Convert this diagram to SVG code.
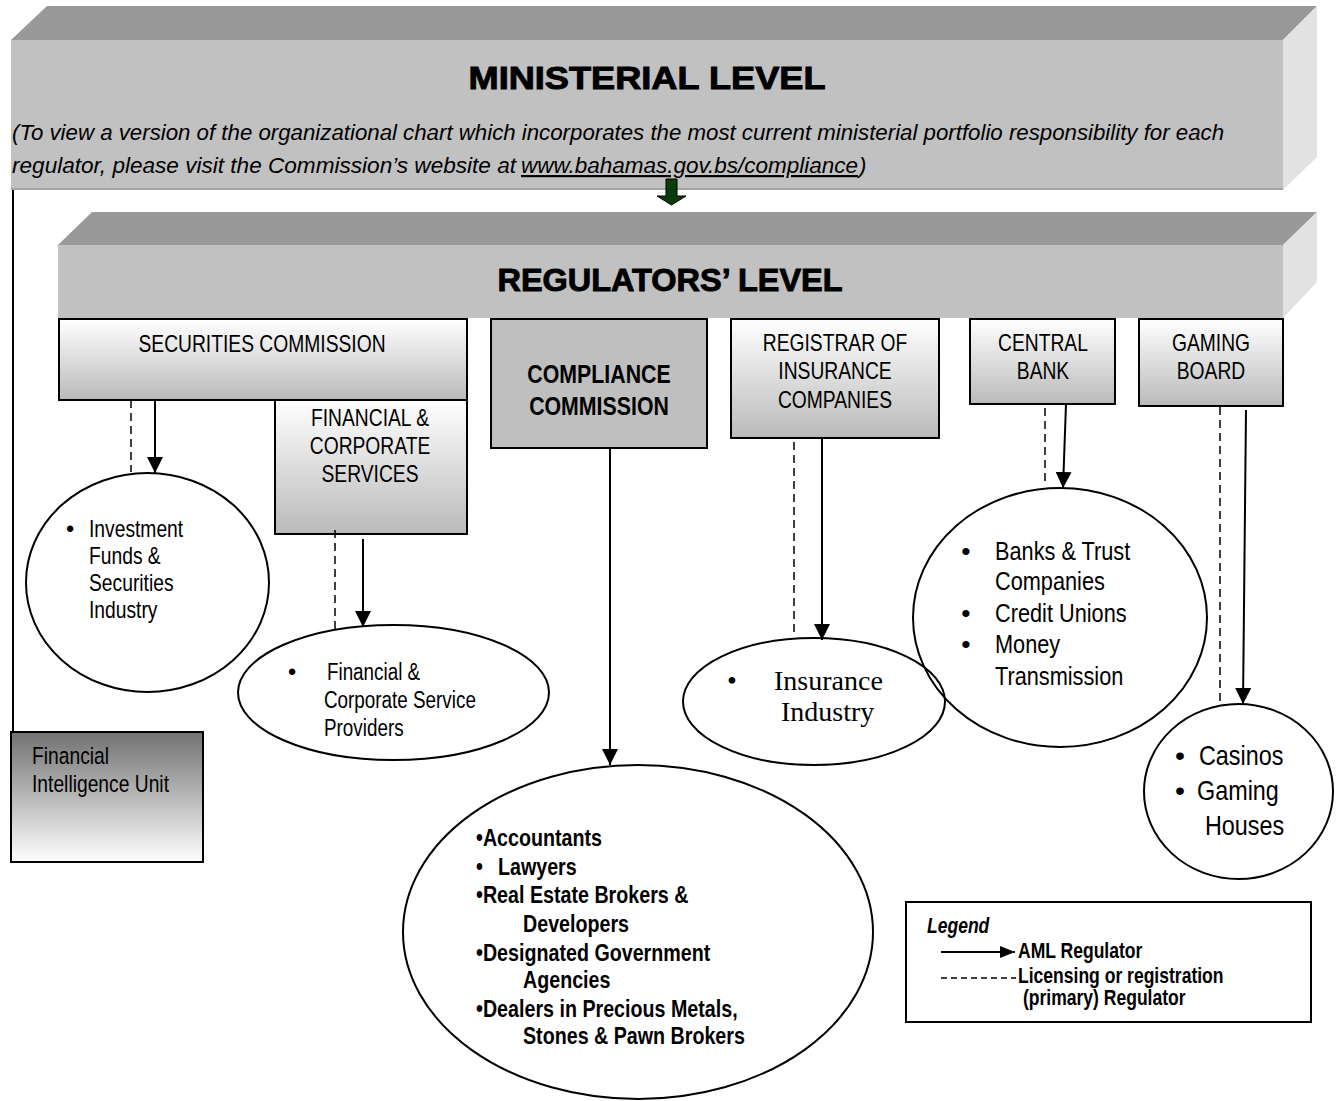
<svg xmlns="http://www.w3.org/2000/svg" width="1340" height="1101" viewBox="0 0 1340 1101">
<defs>
<linearGradient id="gBox" x1="0" y1="0" x2="0" y2="1"><stop offset="0" stop-color="#ffffff"/><stop offset="1" stop-color="#bababa"/></linearGradient>
<linearGradient id="gFiu" x1="0" y1="0" x2="0" y2="1"><stop offset="0" stop-color="#717171"/><stop offset="1" stop-color="#ffffff"/></linearGradient>
<marker id="ah" markerUnits="userSpaceOnUse" markerWidth="16" markerHeight="16" refX="16" refY="8" orient="auto"><path d="M0,0 L16,8 L0,16 z" fill="#000"/></marker>
<marker id="ahl" markerUnits="userSpaceOnUse" markerWidth="15" markerHeight="12" refX="15" refY="6" orient="auto"><path d="M0,0 L15,6 L0,12 z" fill="#000"/></marker>
<style>
.s{font-family:"Liberation Sans",Arial,Helvetica,sans-serif;fill:#000}
.r{font-size:23.5px}
.b{font-weight:bold}
.title{font-family:"Liberation Sans",Arial,sans-serif;font-weight:bold;font-size:31px;stroke:#000;stroke-width:0.9}
.it{font-family:"Liberation Sans",Arial,sans-serif;font-style:italic;font-size:22.2px}
.top{fill:#999999}
.front{fill:#c1c1c1}
.side{fill:#e2e2e2}
.box{stroke:#000;stroke-width:2}
.ell{fill:none;stroke:#000;stroke-width:2}
.aml{stroke:#000;stroke-width:2;fill:none;marker-end:url(#ah)}
.lic{stroke:#000;stroke-width:1.5;stroke-dasharray:8 5;fill:none}
</style>
</defs>
<rect x="0" y="0" width="1340" height="1101" fill="#ffffff"/>

<g id="ministerial-level">
<polygon class="top" points="11,40 47,6 1317,6 1283,40"/>
<polygon class="side" points="1283,40 1317,6 1317,157 1283,190"/>
<rect class="front" x="11" y="40" width="1272" height="150"/>
<line x1="11" y1="189" x2="1283" y2="189" stroke="#a5a5a5" stroke-width="2"/>
<text class="title" x="647" y="89" text-anchor="middle" textLength="357" lengthAdjust="spacingAndGlyphs">MINISTERIAL LEVEL</text>
<text class="it" x="12" y="140" textLength="1212" lengthAdjust="spacingAndGlyphs">(To view a version of the organizational chart which incorporates the most current ministerial portfolio responsibility for each</text>
<text class="it" x="12" y="173" textLength="504" lengthAdjust="spacingAndGlyphs">regulator, please visit the Commission’s website at</text>
<text class="it" x="521" y="173" textLength="337" lengthAdjust="spacingAndGlyphs" text-decoration="underline">www.bahamas.gov.bs/compliance</text>
<text class="it" x="859" y="173">)</text>
</g>

<g id="regulators-level">
<polygon class="top" points="58,245 92,212 1317,212 1283,245"/>
<polygon class="side" points="1283,245 1317,212 1317,282 1283,318"/>
<rect class="front" x="58" y="245" width="1225" height="73"/>
<text class="title" x="670" y="291" text-anchor="middle" textLength="345" lengthAdjust="spacingAndGlyphs">REGULATORS’ LEVEL</text>
</g>

<g id="securities-commission">
<rect class="box" x="59" y="319" width="408" height="81" fill="url(#gBox)"/>
<g transform="translate(262,0) scale(0.82,1)"><text class="s r" x="0" y="352" text-anchor="middle">SECURITIES COMMISSION</text></g>
</g>

<g id="financial-corporate-services">
<rect class="box" x="275" y="400" width="192" height="134" fill="url(#gBox)"/>
<g transform="translate(370,0) scale(0.82,1)" class="s r">
<text x="0" y="426" text-anchor="middle">FINANCIAL &amp;</text>
<text x="0" y="454" text-anchor="middle">CORPORATE</text>
<text x="0" y="482" text-anchor="middle">SERVICES</text>
</g>
</g>

<g id="compliance-commission">
<rect class="box" x="491" y="319" width="216" height="129" fill="#bfbfbf"/>
<g transform="translate(599,0) scale(0.82,1)" class="s b" font-size="26">
<text x="0" y="383" text-anchor="middle">COMPLIANCE</text>
<text x="0" y="415" text-anchor="middle">COMMISSION</text>
</g>
</g>

<g id="registrar-insurance">
<rect class="box" x="731" y="319" width="208" height="119" fill="url(#gBox)"/>
<g transform="translate(835,0) scale(0.82,1)" class="s r">
<text x="0" y="351" text-anchor="middle">REGISTRAR OF</text>
<text x="0" y="379.5" text-anchor="middle">INSURANCE</text>
<text x="0" y="408" text-anchor="middle">COMPANIES</text>
</g>
</g>

<g id="central-bank">
<rect class="box" x="970" y="319" width="145" height="85" fill="url(#gBox)"/>
<g transform="translate(1043,0) scale(0.82,1)" class="s r">
<text x="0" y="351" text-anchor="middle">CENTRAL</text>
<text x="0" y="379.5" text-anchor="middle">BANK</text>
</g>
</g>

<g id="gaming-board">
<rect class="box" x="1139" y="319" width="144" height="87" fill="url(#gBox)"/>
<g transform="translate(1211,0) scale(0.82,1)" class="s r">
<text x="0" y="351" text-anchor="middle">GAMING</text>
<text x="0" y="379.5" text-anchor="middle">BOARD</text>
</g>
</g>

<g id="financial-intelligence-unit">
<rect class="box" x="11" y="732" width="192" height="130" fill="url(#gFiu)"/>
<g transform="translate(32,0) scale(0.82,1)" class="s r" fill="#1a1a1a">
<text x="0" y="764">Financial</text>
<text x="0" y="792">Intelligence Unit</text>
</g>
</g>

<g id="investment-funds">
<ellipse class="ell" cx="147.5" cy="582.5" rx="121.5" ry="109.5"/>
<text class="s r" x="70" y="537" text-anchor="middle">•</text>
<g transform="translate(89,0) scale(0.82,1)" class="s r">
<text x="0" y="537">Investment</text>
<text x="0" y="564">Funds &amp;</text>
<text x="0" y="591">Securities</text>
<text x="0" y="618">Industry</text>
</g>
</g>

<g id="corporate-service-providers">
<ellipse class="ell" cx="393.5" cy="692.5" rx="155.5" ry="67.5"/>
<text class="s r" x="292" y="680" text-anchor="middle">•</text>
<g transform="translate(324,0) scale(0.82,1)" class="s" font-size="23">
<text x="3.6" y="680">Financial &amp;</text>
<text x="0" y="708">Corporate Service</text>
<text x="0" y="736">Providers</text>
</g>
</g>

<g id="dnfbps">
<ellipse class="ell" cx="638" cy="932" rx="235" ry="167"/>
<g transform="translate(476,0) scale(0.82,1)" class="s b" font-size="24">
<text x="0" y="846">•Accountants</text>
<text x="0" y="875">•</text>
<text x="26.8" y="875">Lawyers</text>
<text x="0" y="903">•Real Estate Brokers &amp;</text>
<text x="57.3" y="932">Developers</text>
<text x="0" y="961">•Designated Government</text>
<text x="57.3" y="988">Agencies</text>
<text x="0" y="1017">•Dealers in Precious Metals,</text>
<text x="57.3" y="1044">Stones &amp; Pawn Brokers</text>
</g>
</g>

<g id="insurance-industry">
<ellipse class="ell" cx="814" cy="701.5" rx="131" ry="63.5"/>
<g font-family="'Liberation Serif','Times New Roman',serif" font-size="28" fill="#000">
<text x="732" y="690" text-anchor="middle">•</text>
<text x="774" y="690">Insurance</text>
<text x="781" y="721">Industry</text>
</g>
</g>

<g id="banks-trust">
<ellipse class="ell" cx="1060" cy="617.5" rx="147" ry="129.5"/>
<g class="s" font-size="26.5">
<text x="966" y="560" text-anchor="middle">•</text>
<text x="966" y="622" text-anchor="middle">•</text>
<text x="966" y="653" text-anchor="middle">•</text>
</g>
<g transform="translate(995,0) scale(0.82,1)" class="s" font-size="26.5">
<text x="0" y="560">Banks &amp; Trust</text>
<text x="0" y="590">Companies</text>
<text x="0" y="622">Credit Unions</text>
<text x="0" y="653">Money</text>
<text x="0" y="685">Transmission</text>
</g>
</g>

<g id="casinos">
<ellipse class="ell" cx="1238.5" cy="791.5" rx="94.5" ry="87.5"/>
<g class="s" font-size="28.5">
<text x="1180" y="765" text-anchor="middle">•</text>
<text x="1180" y="800" text-anchor="middle">•</text>
</g>
<g transform="translate(1199,0) scale(0.82,1)" class="s" font-size="28.5">
<text x="0" y="765">Casinos</text>
<text x="-2.4" y="800">Gaming</text>
<text x="7.3" y="835">Houses</text>
</g>
</g>

<g id="legend">
<rect x="906" y="902" width="405" height="120" fill="#ffffff" stroke="#000" stroke-width="2"/>
<g transform="translate(927,0) scale(0.82,1)" class="s b" font-size="21.4">
<text x="0" y="933" font-style="italic">Legend</text>
<text x="111" y="958">AML Regulator</text>
<text x="111" y="983">Licensing or registration</text>
<text x="117" y="1005">(primary) Regulator</text>
</g>
<line x1="941" y1="952" x2="1015" y2="952" stroke="#000" stroke-width="2" marker-end="url(#ahl)"/>
<line x1="941" y1="978" x2="1016" y2="978" stroke="#000" stroke-width="1.3" stroke-dasharray="6 4"/>
</g>

<g id="connectors">
<polygon points="666,179 677,179 677,196 686,196 671.5,205 657,196 666,196" fill="#0b3b0b" stroke="#000" stroke-width="1"/>
<line x1="13" y1="190" x2="13" y2="732" stroke="#000" stroke-width="2"/>
<line class="lic" x1="131" y1="400" x2="131" y2="472"/>
<line class="aml" x1="155" y1="400" x2="155" y2="473"/>
<line class="lic" x1="335" y1="530" x2="335" y2="629"/>
<line class="aml" x1="363" y1="539" x2="363" y2="627"/>
<line class="aml" x1="610" y1="448" x2="610" y2="765"/>
<line class="lic" x1="794" y1="442" x2="794" y2="633"/>
<line class="aml" x1="822" y1="438" x2="822" y2="640"/>
<line class="lic" x1="1045" y1="408" x2="1045" y2="486"/>
<line class="aml" x1="1066" y1="404" x2="1063" y2="488"/>
<line class="lic" x1="1220" y1="407" x2="1220" y2="703"/>
<line class="aml" x1="1246" y1="410" x2="1243" y2="704"/>
</g>
</svg>
